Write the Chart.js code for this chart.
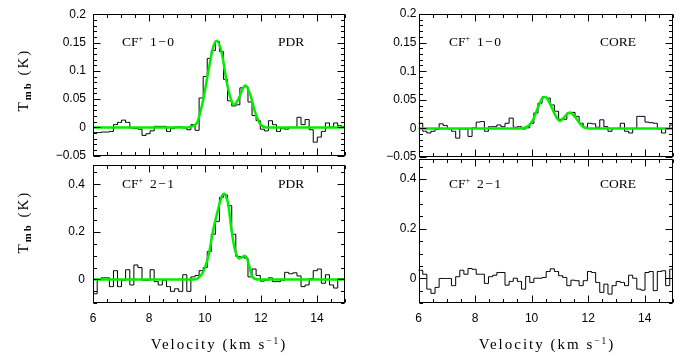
<!DOCTYPE html>
<html>
<head>
<meta charset="utf-8">
<script src="https://cdn.jsdelivr.net/npm/chart.js@4.4.1/dist/chart.umd.min.js"></script>
<style>
html, body { margin: 0; padding: 0; background: #fff; }
#wrap { position: relative; width: 686px; height: 356px; overflow: hidden; background: #fff; }
canvas { position: absolute; }
.t { position: absolute; font-family: 'Liberation Serif', 'Times New Roman', serif; color: #000; line-height: 1; white-space: nowrap; }
.ann { font-size: 13.5px; }
.ttl { font-size: 15px; letter-spacing: 2px; }
.sup { font-size: 0.62em; position: relative; top: -0.55em; }
.sub { font-size: 0.72em; font-weight: bold; position: relative; top: 0.3em; }
.sp { letter-spacing: 1.5px; }
</style>
</head>
<body>
<div id="wrap">
  <canvas id="tl" width="350" height="170" style="left:0;top:0;width:350px;height:170px"></canvas>
  <canvas id="tr" width="350" height="170" style="left:330px;top:0;width:350px;height:170px"></canvas>
  <canvas id="bl" width="350" height="206" style="left:0;top:150px;width:350px;height:206px"></canvas>
  <canvas id="br" width="350" height="206" style="left:330px;top:150px;width:350px;height:206px"></canvas>

  <div class="t ann" style="left:122px;top:35px">CF<span class="sup">+</span>&nbsp;&nbsp;<span class="sp">1−0</span></div>
  <div class="t ann" style="left:278px;top:35px">PDR</div>
  <div class="t ann" style="left:449px;top:35px">CF<span class="sup">+</span>&nbsp;&nbsp;<span class="sp">1−0</span></div>
  <div class="t ann" style="left:600px;top:35px">CORE</div>
  <div class="t ann" style="left:122px;top:177px">CF<span class="sup">+</span>&nbsp;&nbsp;<span class="sp">2−1</span></div>
  <div class="t ann" style="left:278px;top:177px">PDR</div>
  <div class="t ann" style="left:449px;top:177px">CF<span class="sup">+</span>&nbsp;&nbsp;<span class="sp">2−1</span></div>
  <div class="t ann" style="left:600px;top:177px">CORE</div>

  <div class="t ttl" style="left:23px;top:80px;transform:translate(-50%,-50%) rotate(-90deg)">T<span class="sub">mb</span> (K)</div>
  <div class="t ttl" style="left:23px;top:222px;transform:translate(-50%,-50%) rotate(-90deg)">T<span class="sub">mb</span> (K)</div>
  <div class="t ttl" style="left:219px;top:337px;transform:translateX(-50%)">Velocity (km s<span class="sup">−1</span>)</div>
  <div class="t ttl" style="left:547px;top:337px;transform:translateX(-50%)">Velocity (km s<span class="sup">−1</span>)</div>
</div>
<script>
// channel centres (km/s)
const velocity = [5.93, 6.08, 6.22, 6.37, 6.51, 6.66, 6.80, 6.95, 7.09, 7.24, 7.39, 7.53, 7.68, 7.82, 7.97, 8.11,
  8.26, 8.40, 8.55, 8.70, 8.84, 8.99, 9.13, 9.28, 9.42, 9.57, 9.72, 9.86, 10.01, 10.15, 10.30, 10.44,
  10.59, 10.73, 10.88, 11.03, 11.17, 11.32, 11.46, 11.61, 11.75, 11.90, 12.05, 12.19, 12.34, 12.48, 12.63, 12.77,
  12.92, 13.06, 13.21, 13.36, 13.50, 13.65, 13.79, 13.94, 14.08, 14.23, 14.37, 14.52, 14.67, 14.81, 14.96, 15.10];

// observed spectra, Tmb (K)
const pdr10 = [-0.002, -0.009, -0.009, -0.008, -0.008, -0.007, 0.005, 0.009, 0.013, 0.009,
  -0.001, -0.002, -0.003, -0.014, -0.011, -0.006, 0.002, 0.002, 0.002, -0.007,
  -0.002, 0.001, 0.001, -0.001, -0.004, 0.005, -0.005, 0.052, 0.09, 0.122,
  0.136, 0.152, 0.134, 0.085, 0.047, 0.038, 0.04, 0.07, 0.072, 0.045,
  0.021, 0.012, -0.003, -0.006, 0.012, 0.005, -0.007, -0.002, -0.003, 0,
  0, 0.018, 0.005, 0.014, -0.004, -0.026, -0.017, -0.007, 0.008, 0.001,
  0.008, 0.003, 0.002, 0.002];
const core10 = [0.009, 0.009, -0.005, -0.008, -0.005, -0.002, 0.008, 0.005, -0.001, -0.005,
  -0.017, -0.001, -0.001, -0.014, 0.001, 0.011, 0.012, -0.005, 0.003, 0.003,
  0.006, 0.003, 0.009, 0.018, 0.002, 0.003, -0.001, 0.001, 0.009, 0.027,
  0.044, 0.055, 0.053, 0.041, 0.03, 0.016, 0.016, 0.027, 0.028, 0.021,
  0.009, 0.002, 0.009, 0.008, 0.002, 0.015, 0.003, -0.005, 0, 0,
  0.009, -0.005, -0.008, 0, 0.021, 0.021, 0.011, 0.01, 0.009, -0.001,
  -0.008, -0.001, 0.006, 0.006];
const pdr21 = [-0.06, -0.06, 0.0, 0.007, 0.007, -0.03, 0.037, -0.03, -0.003, 0.041,
  -0.023, 0.061, 0.05, -0.003, -0.003, 0.041, -0.009, -0.023, -0.003, -0.03,
  -0.05, -0.039, -0.05, 0.02, -0.05, 0.011, 0.017, 0.037, 0.05, 0.117,
  0.19, 0.244, 0.345, 0.355, 0.31, 0.19, 0.097, 0.095, 0.09, 0.011,
  0.044, 0.017, -0.007, -0.003, 0.007, -0.009, -0.009, -0.003, 0.03, 0.024,
  0.028, 0.015, -0.03, -0.023, 0.004, 0.037, 0.044, -0.016, 0.02, -0.023,
  -0.036, 0.004, 0.004, 0.0];
const core21 = [0.033, 0.033, 0.017, -0.043, -0.06, -0.036, 0, 0, 0, -0.029,
  0.007, 0.033, 0.017, 0.04, 0.037, 0.017, 0.017, -0.02, 0.007, 0.013,
  0.024, 0.024, -0.027, -0.012, 0.001, -0.012, -0.043, 0.008, -0.016, 0.001,
  0.001, 0.004, 0.028, 0.039, 0.028, 0.011, 0.004, -0.029, -0.007, -0.009,
  -0.029, -0.009, 0.028, 0.024, -0.016, -0.056, -0.023, -0.063, -0.029, -0.012,
  -0.016, -0.029, 0.013, 0.001, -0.043, -0.047, 0.024, 0.028, -0.049, 0.028,
  0.031, -0.029, 0.037, 0.037];

// gaussian fits
const fitPdr10Vel = [5.9, 9.3, 9.47, 9.71, 9.94, 10.13, 10.30, 10.42, 10.60, 10.78, 10.96, 11.04, 11.19, 11.44, 11.61, 11.79, 11.97, 12.2, 15.1];
const fitPdr10Tmb = [0, 0, 0.001, 0.008, 0.05, 0.102, 0.143, 0.153, 0.131, 0.079, 0.045, 0.04, 0.05, 0.074, 0.059, 0.027, 0.006, 0, 0];
const fitCore10Vel = [5.9, 9.55, 9.85, 10.05, 10.22, 10.37, 10.48, 10.62, 10.77, 10.92, 11.02, 11.18, 11.35, 11.52, 11.7, 11.88, 12.05, 15.1];
const fitCore10Tmb = [0, 0, 0.003, 0.015, 0.036, 0.052, 0.055, 0.046, 0.03, 0.016, 0.013, 0.021, 0.028, 0.021, 0.009, 0.001, 0, 0];
const fitPdr21Vel = [5.9, 9.6, 9.75, 9.9, 10.0, 10.12, 10.31, 10.48, 10.6, 10.69, 10.78, 10.84, 10.95, 11.08, 11.23, 11.43, 11.55, 11.67, 11.8, 11.95, 15.1];
const fitPdr21Tmb = [0, 0, 0.005, 0.025, 0.05, 0.097, 0.217, 0.3, 0.35, 0.36, 0.34, 0.31, 0.204, 0.12, 0.088, 0.1, 0.07, 0.017, 0.002, 0, 0];

// tick labels
const velTicks = [6, 8, 10, 12, 14];
const topTicks = [-0.05, 0, 0.05, 0.1, 0.15, 0.2];
const bottomTicks = [0, 0.2, 0.4];

Chart.defaults.font.family = "'Liberation Sans', Arial, sans-serif";
Chart.defaults.font.size = 12;
Chart.defaults.color = '#000';

const fmt = v => String(+v.toFixed(2)).replace('-', '\u2212');

// box with inward ticks on all four sides
const frame = {
  id: 'frame',
  afterDatasetsDraw(chart, args, o) {
    const { ctx, chartArea: a, scales: { x, y } } = chart;
    const L = Math.round(a.left) + 0.5, R = Math.round(a.right) - 0.5;
    const T = Math.round(a.top) + 0.5, B = Math.round(a.bottom) - 0.5;
    ctx.save();
    ctx.strokeStyle = '#000';
    ctx.lineWidth = 1;
    ctx.strokeRect(L, T, R - L, B - T);
    ctx.beginPath();
    for (let k = 12; k <= 30; k++) {
      const v = k * 0.5;
      const len = velTicks.includes(v) ? 7 : 3.5;
      const px = Math.round(x.getPixelForValue(v)) + 0.5;
      ctx.moveTo(px, B); ctx.lineTo(px, B - len);
      ctx.moveTo(px, T); ctx.lineTo(px, T + len);
    }
    const k0 = Math.ceil(o.yMin / o.minor - 1e-6), k1 = Math.floor(o.yMax / o.minor + 1e-6);
    for (let k = k0; k <= k1; k++) {
      const v = k * o.minor;
      const len = o.major.some(m => Math.abs(m - v) < 1e-6) ? 7 : 3.5;
      const py = Math.round(y.getPixelForValue(v)) + 0.5;
      ctx.moveTo(L, py); ctx.lineTo(L + len, py);
      ctx.moveTo(R, py); ctx.lineTo(R - len, py);
    }
    ctx.stroke();
    ctx.restore();
  }
};

function panel(id, spec) {
  const datasets = [];
  if (spec.fitV) {
    datasets.push({
      data: spec.fitV.map((v, i) => ({ x: v, y: spec.fitT[i] })),
      borderColor: '#00ee00', borderWidth: 2.5, pointRadius: 0,
      cubicInterpolationMode: 'monotone', order: 0
    });
  }
  datasets.push({
    data: velocity.map((v, i) => ({ x: v, y: spec.obs[i] })),
    borderColor: '#000', borderWidth: 1, pointRadius: 0,
    stepped: 'middle', order: 1
  });
  return new Chart(document.getElementById(id), {
    type: 'line',
    data: { datasets },
    options: {
      responsive: false,
      animation: false,
      devicePixelRatio: 1,
      events: [],
      layout: { padding: spec.pad },
      plugins: {
        legend: { display: false },
        tooltip: { enabled: false },
        frame: { yMin: spec.yMin, yMax: spec.yMax, minor: spec.minor, major: spec.ticks }
      },
      scales: {
        x: {
          type: 'linear', min: 6, max: 15,
          display: spec.showX,
          afterBuildTicks: s => { s.ticks = velTicks.map(v => ({ value: v })); },
          afterFit: s => { s.height = spec.xH || 0; },
          grid: { display: false, drawTicks: false },
          border: { display: false },
          ticks: { padding: 8, maxRotation: 0, autoSkip: false }
        },
        y: {
          type: 'linear', min: spec.yMin, max: spec.yMax,
          afterBuildTicks: s => { s.ticks = spec.ticks.map(v => ({ value: v })); },
          afterFit: s => { s.width = spec.yW; },
          grid: { display: false, drawTicks: false },
          border: { display: false },
          ticks: { padding: spec.yPad, callback: v => fmt(v), autoSkip: false }
        }
      }
    },
    plugins: [frame]
  });
}

panel('tl', { obs: pdr10, fitV: fitPdr10Vel, fitT: fitPdr10Tmb, yMin: -0.05, yMax: 0.2, ticks: topTicks, minor: 0.01,
  showX: false, yW: 93, yPad: 7, pad: { left: 0, top: 14, right: 5, bottom: 13 } });
panel('tr', { obs: core10, fitV: fitCore10Vel, fitT: fitCore10Tmb, yMin: -0.05, yMax: 0.2, ticks: topTicks, minor: 0.01,
  showX: false, yW: 88.5, yPad: 2, pad: { left: 0, top: 14, right: 7, bottom: 13 } });
panel('bl', { obs: pdr21, fitV: fitPdr21Vel, fitT: fitPdr21Tmb, yMin: -0.1, yMax: 0.48, ticks: bottomTicks, minor: 0.05,
  showX: true, xH: 52.7, yW: 93, yPad: 8, pad: { left: 0, top: 7, right: 5, bottom: 0 } });
panel('br', { obs: core21, yMin: -0.1, yMax: 0.48, ticks: bottomTicks, minor: 0.05,
  showX: true, xH: 52.7, yW: 88.5, yPad: 2, pad: { left: 0, top: 7, right: 7, bottom: 0 } });
</script>
</body>
</html>
